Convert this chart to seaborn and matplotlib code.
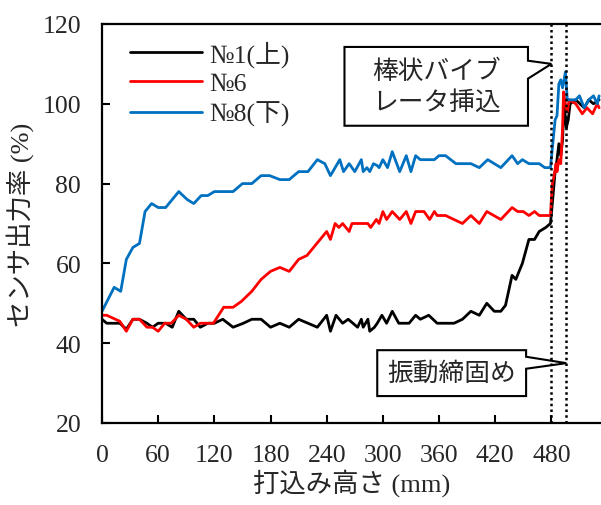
import matplotlib
matplotlib.use("Agg")
import matplotlib.pyplot as plt
from matplotlib.patches import Polygon
import numpy as np
import pandas as pd
import seaborn as sns

# Sensor output ratio (%) against placement height (mm)
x_no1 = [0, 5, 19, 26, 33, 40, 48, 54, 60, 68, 75, 82, 90, 98, 105, 113, 120, 129, 140,
         151, 160, 170, 180, 190, 200, 210, 220, 230, 240, 244, 250, 257, 263, 268, 273,
         277, 279, 284, 286, 291, 294, 299, 304, 310, 317, 328, 335, 340, 349, 358, 376,
         385, 394, 403, 411, 419, 426, 431, 438, 442, 449, 456, 462, 467, 474, 479, 481,
         484, 486, 488, 490, 492, 493, 494, 496, 498, 500, 506, 515, 520, 525, 531]
y_no1 = [46, 45, 45, 43.5, 46, 46, 45, 44, 45, 45, 44, 48, 46, 46, 44, 45, 45, 46, 44,
         45, 46, 46, 44, 45, 44, 46, 45, 44, 47, 43, 47, 45, 46, 45, 44,
         46, 44, 46, 43, 44, 45, 47, 45, 48, 45, 45, 47, 46, 47, 45, 45,
         46, 48, 47, 50, 48, 48, 49.5, 57, 56, 60, 66, 66, 68, 69, 70, 75,
         83, 86, 90, 87, 91, 97, 99, 94, 96, 100, 101, 99, 101, 100, 101]

x_no6 = [0, 5, 19, 26, 33, 40, 48, 54, 60, 67, 74, 82, 90, 98, 105, 119, 130, 140, 149,
         160, 170, 180, 190, 200, 210, 219, 240, 244, 249, 253, 257, 264, 267, 284, 287,
         293, 296, 300, 304, 310, 318, 325, 330, 335, 344, 350, 355, 358, 367, 385, 394,
         403, 411, 426, 438, 444, 450, 456, 462, 467, 479, 481, 483, 485, 486, 488, 490,
         492, 493, 495, 497, 499, 506, 513, 518, 524, 529, 531]
y_no6 = [47, 47, 45.5, 43, 46, 46, 44, 44, 43, 45, 45, 47, 46, 44, 45, 45, 49, 49, 50.5,
         53, 56, 58, 59, 58, 61, 62, 68, 66, 70, 69, 70, 68, 70, 70, 69,
         71, 70, 73, 71, 73, 71, 73, 70, 73, 73, 71, 73, 72, 72, 70, 72,
         70, 73, 71, 74, 73, 73, 72, 73, 72, 72, 80, 82, 85, 83, 86, 85,
         94, 103, 100, 98, 101, 100, 97.5, 99, 97.5, 100, 99]

x_no8 = [0, 13, 20, 26, 33, 40, 46, 53, 60, 68, 82, 91, 98, 106, 113, 120, 136, 140, 150,
         160, 170, 179, 190, 200, 210, 220, 230, 238, 244, 254, 258, 264, 270, 277, 279,
         283, 286, 290, 294, 296, 300, 305, 310, 318, 325, 330, 335, 340, 355, 360, 367,
         378, 394, 403, 412, 426, 438, 444, 449, 456, 467, 473, 479, 484, 486, 488, 490,
         492, 495, 497, 499, 506, 510, 515, 520, 525, 529, 531]
y_no8 = [48, 54, 53, 61, 64, 65, 73, 75, 74, 74, 78, 76, 75, 77, 77, 78, 78, 78, 80,
         80, 82, 82, 81, 81, 83, 83, 86, 85, 82, 86, 83, 85, 83, 86, 83,
         84, 83, 85, 84.5, 84, 86, 84, 88, 83, 87, 83, 87, 86, 86, 87, 87,
         85, 85, 84, 86, 84, 87, 85, 86, 85, 85, 84, 84, 96, 97, 105, 106,
         104, 108, 101, 101, 101, 102, 99, 101, 102, 100, 102]

labels = ["№1(上)", "№6", "№8(下)"]
colors = ["#000000", "#FF0000", "#0070C0"]
x_ticks = [0, 60, 120, 180, 240, 300, 360, 420, 480]
y_ticks = [20, 40, 60, 80, 100, 120]
vib_insert_x = 480      # rod vibrator inserted
vib_compact_x = 496     # vibration compaction

df = pd.concat([
    pd.DataFrame({"height": x_no1, "ratio": y_no1, "sensor": labels[0]}),
    pd.DataFrame({"height": x_no6, "ratio": y_no6, "sensor": labels[1]}),
    pd.DataFrame({"height": x_no8, "ratio": y_no8, "sensor": labels[2]}),
], ignore_index=True)

sns.set_style("ticks")
plt.rcParams["font.family"] = ["Liberation Serif", "Noto Sans CJK JP"]
plt.rcParams["axes.unicode_minus"] = False

W, H = 601, 506
fig = plt.figure(figsize=(W / 100, H / 100), dpi=100)
ax = fig.add_axes([102 / W, 1 - 424 / H, (W - 102) / W, (424 - 25) / H])

sns.lineplot(data=df, x="height", y="ratio", hue="sensor", hue_order=labels,
             palette=colors, estimator=None, sort=False, linewidth=2.0, ax=ax)

ax.set_xlim(0, 533)
ax.set_ylim(20, 120)
ax.set_xticks(x_ticks)
ax.set_yticks(y_ticks)
ax.tick_params(direction="in", length=6, width=1.5, labelsize=18.5, color="black")
ax.tick_params(axis="x", pad=15)
ax.tick_params(axis="y", pad=15)
for side in ["left", "bottom", "top"]:
    ax.spines[side].set_linewidth(1.6)
    ax.spines[side].set_color("black")
ax.spines["right"].set_visible(False)

ax.set_xlabel("打込み高さ (mm)", fontsize=19, labelpad=2)
ax.set_ylabel("センサ出力率 (%)", fontsize=19, labelpad=6)

# dotted markers for vibrator insertion and compaction
for xv in (vib_insert_x, vib_compact_x):
    ax.axvline(xv, color="black", linestyle=(0, (1, 1.3)), linewidth=1.8, zorder=5)

# callout boxes
call1 = [(259, 114.25), (455, 114.25), (455, 110.8), (vib_insert_x, 110),
         (455, 106.3), (455, 94.5), (259, 94.5)]
call2 = [(294, 38.25), (453, 38.25), (453, 36.6), (vib_compact_x, 35),
         (453, 33.6), (453, 26.75), (294, 26.75)]
for pts in (call1, call2):
    ax.add_patch(Polygon(pts, closed=True, facecolor="white", edgecolor="black",
                         linewidth=1.5, zorder=4))
ax.text(357, 104.4, "棒状バイブ\nレータ挿込", ha="center", va="center",
        fontsize=18.5, linespacing=1.35, zorder=6)
ax.text(373.5, 32.5, "振動締固め", ha="center", va="center", fontsize=18.5, zorder=6)

handles, _ = ax.get_legend_handles_labels()
ax.legend(handles=handles, labels=labels, loc="upper left", frameon=False,
          fontsize=18.5, handlelength=2.8, handletextpad=0.3, labelspacing=0.22,
          borderaxespad=0, bbox_to_anchor=(0.035, 0.985))

fig.savefig("out.png", dpi=100)
